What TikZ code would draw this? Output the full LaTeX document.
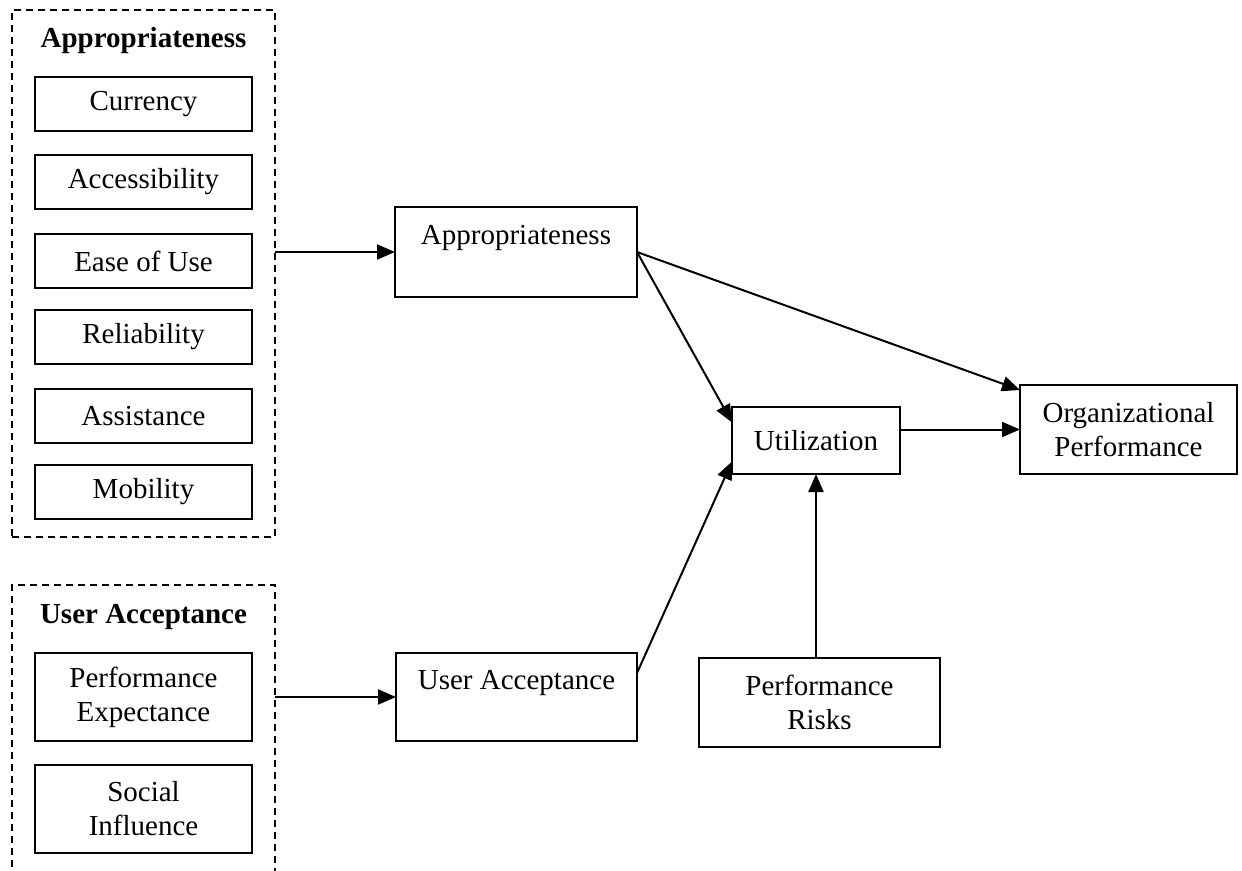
\documentclass[tikz,border=0pt]{standalone}
\usepackage{fontspec}
\setmainfont{Liberation Serif}
\usetikzlibrary{arrows.meta,calc}
\begin{document}
\begin{tikzpicture}[x=1pt,y=-1pt,
  every node/.style={font=\fontsize{29pt}{34pt}\selectfont, inner sep=0pt, outer sep=0pt},
  box/.style={draw, line width=2pt, rectangle, align=center},
  item/.style={box, minimum width=217pt, minimum height=54pt},
  item2/.style={box, minimum width=217pt, minimum height=88pt},
  group/.style={draw, line width=1.4pt, dash pattern=on 7pt off 5pt, rectangle},
  title/.style={font=\fontsize{29pt}{34pt}\selectfont\bfseries, anchor=base},
  arr/.style={line width=2pt, -{Triangle[length=18pt,width=15pt]}}
]
\useasboundingbox (0,0) rectangle (1242,870);
\clip (0,0) rectangle (1242,870);

% group of appropriateness factors
\node[group, minimum width=263pt, minimum height=527pt] (g1) at (143.5,273.5) {};
\node[title] (t1) at (143.5,47) {Appropriateness};
\node[item] (cur) at (143.5,104) {Currency};
\node[item] (acc) at (143.5,181.5) {Accessibility};
\node[item] (eas) at (143.5,261) {Ease of Use};
\node[item] (rel) at (143.5,337) {Reliability};
\node[item] (ass) at (143.5,416) {Assistance};
\node[item] (mob) at (143.5,492) {Mobility};

% group of user acceptance factors
\node[group, minimum width=263pt, minimum height=315pt] (g2) at (143.5,742.5) {};
\node[title] (t2) at (143.5,623) {User Acceptance};
\node[item2] (pe) at (143.5,697) {Performance\\Expectance};
\node[item2] (si) at (143.5,809) {Social\\Influence};

% constructs
\node[box, minimum width=242pt, minimum height=90pt] (ap) at (516,252) {Appropriateness\\\mbox{}};
\node[box, minimum width=241pt, minimum height=88pt] (ua) at (516.5,697) {User Acceptance\\\mbox{}};
\node[box, minimum width=168pt, minimum height=67pt] (ut) at (816,440.5) {Utilization};
\node[box, minimum width=217pt, minimum height=89pt] (op) at (1128.5,429.5) {Organizational\\Performance};
\node[box, minimum width=241pt, minimum height=89pt] (pr) at (819.5,702.5) {Performance\\Risks};

% connectors
\draw[arr] (g1.east |- ap.west) -- (ap.west);
\draw[arr] (g2.east |- ua.west) -- (ua.west);
\draw[arr] (ap.east) -- ($(ut.west)+(0,-18)$);
\draw[arr] (ap.east) -- ($(op.north west)+(0,5)$);
\draw[arr] ($(ua.east)+(0,-24)$) -- ($(ut.west)+(0,21)$);
\draw[arr] (ut.east |- op.west) -- (op.west);
\draw[arr] (ut.south |- pr.north) -- (ut.south);
\end{tikzpicture}
\end{document}
